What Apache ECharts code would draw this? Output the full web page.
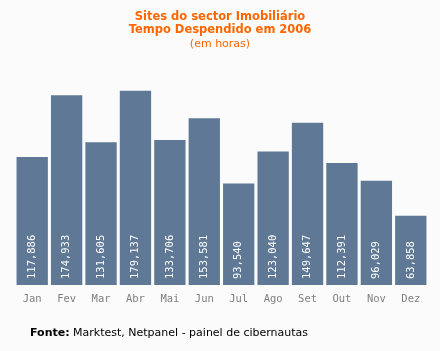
<!DOCTYPE html>
<html>
<head>
<meta charset="utf-8">
<script src="https://cdn.jsdelivr.net/npm/echarts@6/dist/echarts.min.js"></script>
<style>
html,body{margin:0;padding:0;background:#fbfbfb;}
#c{width:440px;height:351px;}
</style>
</head>
<body>
<div id="c"></div>
<script>
var categories = ['Jan','Fev','Mar','Abr','Mai','Jun','Jul','Ago','Set','Out','Nov','Dez'];
var values = [117886,174933,131605,179137,133706,153581,93540,123040,149647,112391,96029,63858];
var titleLines = ['Sites do sector Imobiliário','Tempo Despendido em 2006'];
var subtitle = '(em horas)';

function fmt(v){ return String(v).replace(/\B(?=(\d{3})+(?!\d))/g, ','); }

var chart = echarts.init(document.getElementById('c'));
chart.setOption({
  backgroundColor:'#fbfbfb',
  animation:false,
  title:[{
    text: titleLines.join('\n'),
    subtext: subtitle,
    left:'center', top:6, itemGap:1,
    textStyle:{color:'#ff6600', fontSize:11.5, fontWeight:'bold', fontFamily:'DejaVu Sans', lineHeight:13},
    subtextStyle:{color:'#ff6600', fontSize:11, fontFamily:'DejaVu Sans', lineHeight:12}
  },{
    text:'{b|Fonte:} Marktest, Netpanel - painel de cibernautas',
    left:25, top:323,
    textStyle:{fontSize:11, fontFamily:'DejaVu Sans', color:'#000', fontWeight:'normal',
      rich:{b:{fontWeight:'bold', fontSize:11, fontFamily:'DejaVu Sans', color:'#000'}}}
  }],
  grid:{left:15, right:12, top:68, bottom:66},
  xAxis:{
    type:'category', data:categories,
    axisLine:{show:false}, axisTick:{show:false},
    axisLabel:{color:'#808080', fontSize:10.5, fontFamily:'DejaVu Sans Mono', margin:9}
  },
  yAxis:{type:'value', min:0, max:200000, show:false, splitLine:{show:false}},
  series:[{
    type:'bar', data:values, barCategoryGap:'9%',
    itemStyle:{color:'#5e7896'},
    label:{show:true, position:'insideBottom', rotate:90, align:'left', verticalAlign:'middle',
      distance:6, color:'#fff', fontSize:10.5, fontFamily:'DejaVu Sans Mono',
      formatter:function(p){return fmt(p.value);}}
  }]
});
</script>
</body>
</html>
